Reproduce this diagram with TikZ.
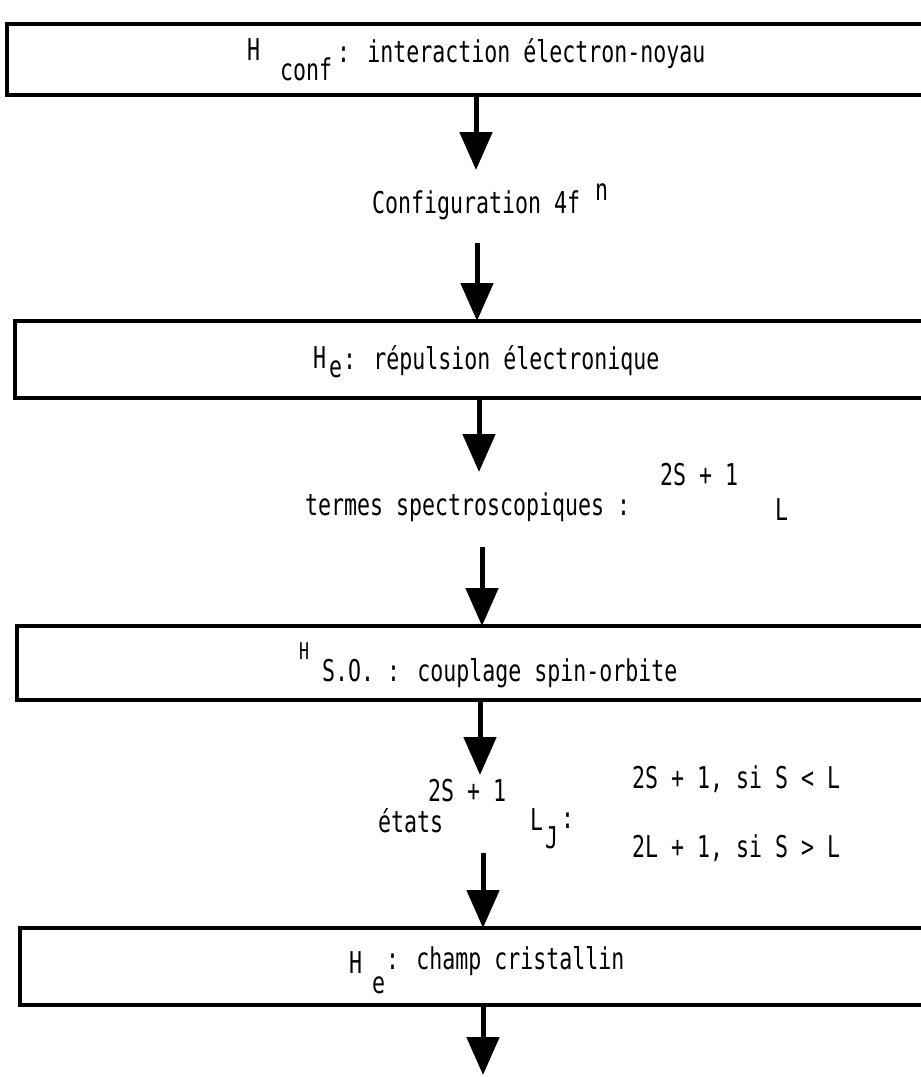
\documentclass[tikz,border=0pt]{standalone}
\usepackage{fontspec}
\setmainfont{DejaVu Sans Mono}[FakeStretch=0.72]
\usetikzlibrary{arrows.meta}
\begin{document}
\begin{tikzpicture}[x=1pt,y=-1pt,
  box/.style={draw,line width=4pt,outer sep=0pt,inner sep=0pt,anchor=north west,minimum width=960pt},
  lbl/.style={anchor=base west,inner sep=0pt,outer sep=0pt,font=\fontsize{30}{35}\selectfont},
  small/.style={anchor=base west,inner sep=0pt,outer sep=0pt,font=\fontsize{23}{27}\selectfont},
  arr/.style={line width=5pt,-{Triangle[width=32pt,length=38pt]}}]
\useasboundingbox (0,0) rectangle (921,1077);
\clip (0,0) rectangle (921,1077);
% boxes
\node[box,minimum height=71pt] (b1) at (7,24) {};
\node[box,minimum height=77pt] (b2) at (15,321) {};
\node[box,minimum height=74pt] (b3) at (17,626) {};
\node[box,minimum height=77pt] (b4) at (20,928) {};
% box 1 text
\node[lbl] (h1) at (247,60) {H};
\node[lbl] (h1s) at (280,80) {conf};
\node[lbl] (t1) at (337,62) {: interaction électron-noyau};
% configuration
\node[lbl] (cfg) at (372,213) {Configuration 4f};
\node[lbl] (cfgn) at (595,200) {n};
% box 2 text
\node[lbl] (h2) at (313,368) {H};
\node[lbl] (h2s) at (329,377) {e};
\node[lbl] (t2) at (343,369) {: répulsion électronique};
% termes
\node[lbl] (term) at (305,515) {termes spectroscopiques :};
\node[lbl] (term2s) at (660,485) {2S + 1};
\node[lbl] (termL) at (775,520) {L};
% box 3 text
\node[small] (h3) at (299,659) {H};
\node[lbl] (t3) at (322,681) {S.O. : couplage spin-orbite};
% etats
\node[lbl] (et2s) at (428,801) {2S + 1};
\node[lbl] (et) at (378,832) {états};
\node[lbl] (etL) at (530,830) {L};
\node[lbl] (etJ) at (545,848) {J};
\node[lbl] (etc) at (561,828) {:};
\node[lbl] (cas1) at (632,788) {2S + 1, si S < L};
\node[lbl] (cas2) at (632,857) {2L + 1, si S > L};
% box 4 text
\node[lbl] (h4) at (349,973) {H};
\node[lbl] (h4s) at (372,993) {e};
\node[lbl] (t4) at (386,969) {: champ cristallin};
% arrow coordinates
\coordinate (e1) at (476,170);
\coordinate (s2) at (477,243);
\coordinate (e3) at (479,472);
\coordinate (s4) at (482,547);
\coordinate (e5) at (480,775);
\coordinate (s6) at (483,853);
\coordinate (e7) at (483,1075);
% arrows
\draw[arr] (b1.south -| e1) -- (e1);
\draw[arr] (s2) -- (b2.north -| s2);
\draw[arr] (b2.south -| e3) -- (e3);
\draw[arr] (s4) -- (b3.north -| s4);
\draw[arr] (b3.south -| e5) -- (e5);
\draw[arr] (s6) -- (b4.north -| s6);
\draw[arr] (b4.south -| e7) -- (e7);
\end{tikzpicture}
\end{document}
